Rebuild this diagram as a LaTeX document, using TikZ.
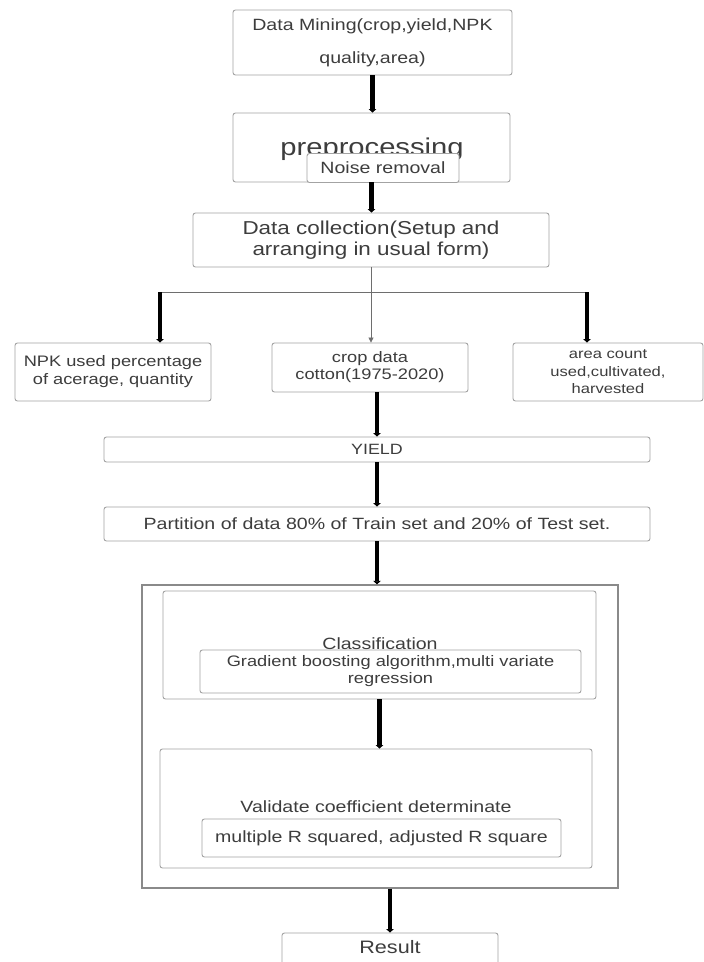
\documentclass[tikz,border=0pt]{standalone}
\usepackage{fontspec}
\setmainfont{Liberation Sans}[FakeStretch=1.2]
\usetikzlibrary{arrows.meta, calc}
\definecolor{textgray}{HTML}{3D3D3D}
\definecolor{boxgray}{HTML}{A3A3A3}
\definecolor{framegray}{HTML}{8A8A8A}
\definecolor{linegray}{HTML}{6E6E6E}
\newcommand{\boxfont}[2]{\fontsize{#1}{#2}\selectfont}
\tikzset{
	flowbox/.style={draw=boxgray, line width=0.9pt, rounded corners=2.5pt, fill=white, text=textgray, align=center, inner sep=0pt}
}
\tikzset{
	bigarrow/.style={line width=4.6pt, black, -{Triangle[width=7.5pt,length=3.5pt]}}
}
\tikzset{
	thinarrow/.style={line width=0.8pt, linegray, -{Triangle[width=5pt,length=5pt]}}
}
\tikzset{
	graytext/.style={text=textgray, inner sep=0pt}
}
\begin{document}
\begin{tikzpicture}[x=1pt, y=-1pt]
      \path[use as bounding box, fill=white] (0,0) rectangle (704,962);
      % preparation chain
      \node[flowbox, minimum width=279, minimum height=65, font=\boxfont{16.3}{33}] (mine) at (372.5,42.5) {Data Mining(crop,yield,NPK\\quality,area)};
      \node[flowbox, minimum width=277, minimum height=69] (prep) at (371.5,147.5) {};
      \node[graytext, anchor=base, font=\boxfont{24.3}{29}] (preptext) at (372,155) {preprocessing};
      \node[flowbox, minimum width=152, minimum height=29, font=\boxfont{16.3}{20}] (noise) at (383,168) {Noise removal};
      \node[flowbox, minimum width=356, minimum height=54, font=\boxfont{18.7}{21}] (collect) at (371,240) {Data collection(Setup and\\arranging in usual form)};
      % three branches
      \coordinate (splitL) at (160,292);
      \coordinate (splitR) at (587,292);
      \node[flowbox, minimum width=196, minimum height=58, font=\boxfont{15.2}{18}] (npk) at (113,372) {NPK used percentage\\of acerage, quantity};
      \node[flowbox, minimum width=196, minimum height=49, font=\boxfont{15.2}{17}] (crop) at (370,367.5) {crop data\\cotton(1975-2020)};
      \node[flowbox, minimum width=190, minimum height=58, font=\boxfont{13.8}{17.5}] (area) at (608,372) {area count\\used,cultivated,\\harvested};
      \node[flowbox, minimum width=546, minimum height=25, font=\boxfont{14.9}{18}] (yield) at (377,449.5) {YIELD};
      \node[flowbox, minimum width=546, minimum height=34, font=\boxfont{16.3}{20}] (part) at (377,524) {Partition of data 80\% of Train set and 20\% of Test set.};
      % model frame
      \node[draw=framegray, line width=1.3pt, minimum width=476, minimum height=303, inner sep=0pt] (frame) at (380,736.5) {};
      \node[flowbox, minimum width=433, minimum height=108] (classify) at (379.5,645) {};
      \node[graytext, anchor=base, font=\boxfont{16.3}{20}] (classtext) at (380,649) {Classification};
      \node[flowbox, minimum width=381, minimum height=43, font=\boxfont{15.2}{17}] (gradient) at (390.5,671.5) {Gradient boosting algorithm,multi variate\\regression};
      \node[flowbox, minimum width=432, minimum height=119] (validate) at (376,808.5) {};
      \node[graytext, anchor=base, font=\boxfont{16.3}{20}] (valtext) at (376,812) {Validate coefficient determinate};
      \node[flowbox, minimum width=359, minimum height=38, font=\boxfont{16.3}{20}] (rsquare) at (381.5,838) {multiple R squared, adjusted R square};
      \node[flowbox, minimum width=216, minimum height=36, text height=13pt, text depth=8pt, font=\boxfont{18}{20}] (result) at (390,951) {Result};
      % connectors
      \draw[bigarrow] (mine.south) -- (mine.south |- prep.north);
      \draw[bigarrow] (prep.south) -- (prep.south |- collect.north);
      \draw[line width=0.9pt, linegray] (splitL) -- (splitR);
      \draw[thinarrow] (collect.south) -- (collect.south |- crop.north);
      \draw[bigarrow] (splitL) -- (splitL |- npk.north);
      \draw[bigarrow] (splitR) -- (splitR |- area.north);
      \draw[bigarrow] (yield.north |- crop.south) -- (yield.north);
      \draw[bigarrow] (yield.south) -- (part.north);
      \draw[bigarrow] (part.south) -- (part.south |- frame.north);
      \draw[bigarrow] (classify.south) -- (classify.south |- validate.north);
      \draw[bigarrow] (frame.south -| result.north) -- (result.north);
    \end{tikzpicture}
\end{document}
